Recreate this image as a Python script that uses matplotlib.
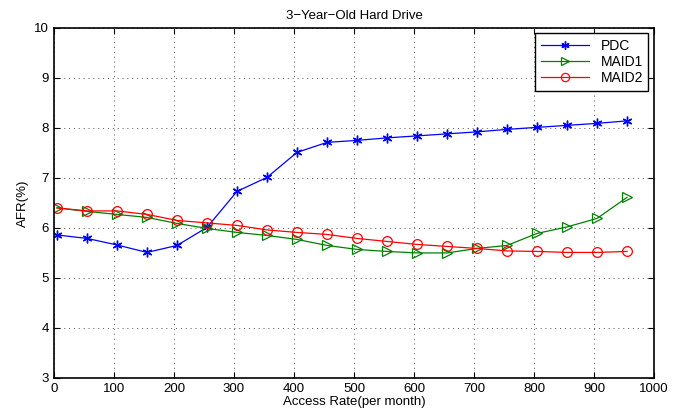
import numpy as np
import matplotlib.pyplot as plt

plt.rcParams['font.family'] = ['Liberation Sans', 'DejaVu Sans']

access_rate = [5, 55, 105, 155, 205, 255, 305, 355, 405, 455,
               505, 555, 605, 655, 705, 755, 805, 855, 905, 955]
pdc = [5.86, 5.79, 5.66, 5.51, 5.65, 6.01, 6.73, 7.01, 7.51, 7.71,
       7.75, 7.80, 7.84, 7.88, 7.92, 7.97, 8.01, 8.05, 8.09, 8.14]
maid1 = [6.40, 6.33, 6.27, 6.21, 6.09, 5.99, 5.91, 5.85, 5.77, 5.65,
         5.57, 5.53, 5.50, 5.50, 5.59, 5.65, 5.89, 6.02, 6.19, 6.61]
maid2 = [6.40, 6.34, 6.34, 6.27, 6.15, 6.10, 6.05, 5.96, 5.91, 5.87,
         5.79, 5.73, 5.67, 5.63, 5.59, 5.54, 5.53, 5.51, 5.51, 5.53]

fig = plt.figure(figsize=(6.85, 4.11), dpi=100)
ax = fig.add_axes([0.0788, 0.0803, 0.876, 0.852])

ax.plot(access_rate, pdc, color='#0000ff', marker=(6, 2, 0), markersize=7, mew=1.0,
        lw=0.9, label='PDC')
ax.plot(access_rate, maid1, color='#008000', marker='>', markersize=7, mfc='none', mew=0.9,
        lw=0.9, label='MAID1')
ax.plot(access_rate, maid2, color='#ff0000', marker='o', markersize=7, mfc='none', mew=0.9,
        lw=0.9, label='MAID2')

ax.set_xlim(0, 1000)
ax.set_ylim(3, 10)
ax.set_xticks(np.arange(0, 1001, 100))
ax.set_yticks(np.arange(3, 11, 1))
ax.grid(True, linestyle=(0, (1, 4)), color='#555555', lw=0.7)
ax.tick_params(direction='in', top=True, right=True, labelsize=9.5, length=4)
for s in ax.spines.values():
    s.set_linewidth(1.2)

ax.set_xlabel('Access Rate(per month)', fontsize=9.5, labelpad=1)
ax.set_ylabel('AFR(%)', fontsize=9.5, labelpad=4)
ax.set_title('3\u2212Year\u2212Old Hard Drive', fontsize=9.5, pad=6)

leg = ax.legend(loc='upper right', fontsize=10, fancybox=False, edgecolor='black',
                framealpha=1, borderaxespad=0.4, handlelength=3.5, labelspacing=0.15,
                markerscale=0.85)
leg.get_frame().set_linewidth(1.0)

fig.savefig('out.png', dpi=100)
